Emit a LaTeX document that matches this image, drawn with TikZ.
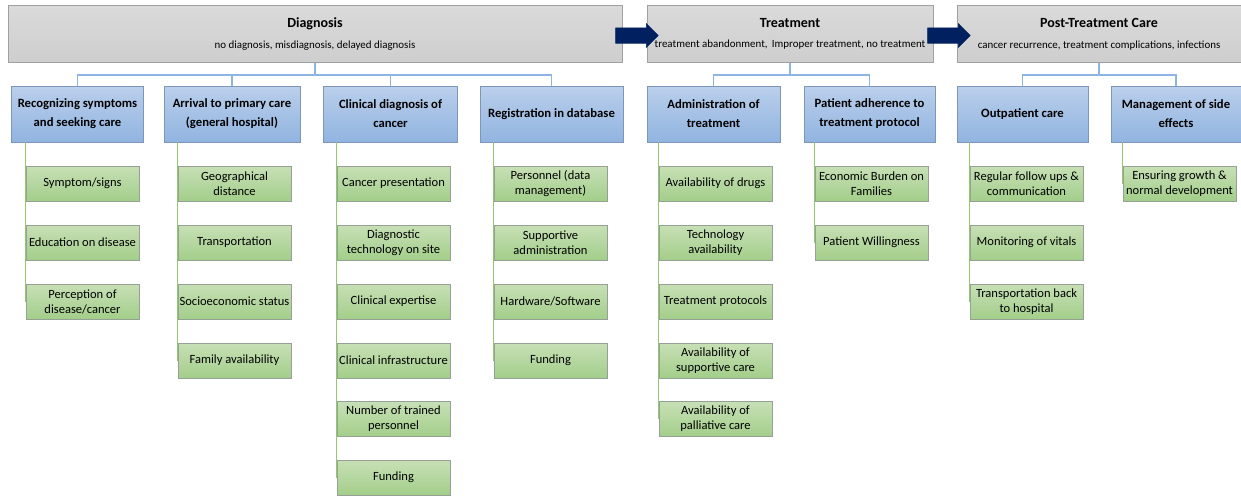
\documentclass[tikz,border=0pt]{standalone}
\usepackage{fontspec}
\setmainfont{Carlito}
\usetikzlibrary{shapes.arrows}

\definecolor{phasefill}{RGB}{206,206,206}
\definecolor{phasetop}{RGB}{218,218,218}
\definecolor{phaseline}{RGB}{160,160,160}
\definecolor{stagetop}{RGB}{186,207,235}
\definecolor{stagebot}{RGB}{145,180,224}
\definecolor{stageline}{RGB}{125,150,185}
\definecolor{factortop}{RGB}{199,224,182}
\definecolor{factorbot}{RGB}{163,206,138}
\definecolor{factorline}{RGB}{150,160,150}
\definecolor{bluelink}{RGB}{141,180,226}
\definecolor{greenlink}{RGB}{146,200,110}
\definecolor{navy}{RGB}{0,32,96}

\tikzset{
  phase/.style={draw=phaseline, line width=0.6pt, top color=phasetop, bottom color=phasefill,
    minimum height=42.75pt, align=center, inner sep=0pt},
  stage/.style={draw=stageline, line width=0.6pt, top color=stagetop, bottom color=stagebot,
    minimum height=42pt, align=center, inner sep=0pt, font=\bfseries\fontsize{9.5}{14.25}\selectfont},
  factor/.style={draw=factorline, line width=0.5pt, top color=factortop, bottom color=factorbot,
    minimum width=84.75pt, minimum height=26.25pt, align=center, inner sep=0pt,
    font=\fontsize{9.4}{11.25}\selectfont},
  bluetree/.style={draw=bluelink, line width=0.9pt},
  greentree/.style={draw=greenlink, line width=1pt},
  flowarrow/.style={single arrow, fill=navy, draw=navy, inner sep=5.6pt, minimum height=32pt,
    single arrow head extend=3pt, single arrow tip angle=90},
}
\newcommand{\phasetext}[2]{{\bfseries\fontsize{10.5}{12}\selectfont #1}\\[3.5pt]{\fontsize{8.2}{9}\selectfont #2}}

\begin{document}
\begin{tikzpicture}[x=0.75pt,y=-0.75pt]
  \useasboundingbox[fill=white] (0,0) rectangle (1241,496);

  % Phases along the care pathway
  \node[phase, minimum width=460.5pt] (diag) at (315,34)
    {\phasetext{Diagnosis}{no diagnosis, misdiagnosis, delayed diagnosis}};
  \node[phase, minimum width=214.5pt] (treat) at (790,34)
    {\phasetext{Treatment}{treatment abandonment,\, Improper treatment, no treatment}};
  \node[phase, minimum width=213pt] (post) at (1099,34)
    {\phasetext{Post-Treatment Care}{cancer recurrence, treatment complications, infections}};
  \node[flowarrow] (arrA) at (633,35.5) {};
  \node[flowarrow] (arrB) at (945,35.5) {};

  % Stages below each phase
  \node[stage, minimum width=99pt] (recog) at (77.5,114) {Recognizing symptoms\\and seeking care};
  \node[stage, minimum width=102pt] (arriv) at (232,114) {Arrival to primary care\\(general hospital)};
  \node[stage, minimum width=100.5pt] (clin) at (390.5,114) {Clinical diagnosis of\\cancer};
  \node[stage, minimum width=107.25pt] (regis) at (551.5,114) {Registration in database};
  \node[stage, minimum width=99.75pt] (admin) at (713.5,114) {Administration of\\treatment};
  \node[stage, minimum width=98.25pt] (adher) at (869.5,114) {Patient adherence to\\treatment protocol};
  \node[stage, minimum width=98.25pt] (outp) at (1022.5,114) {Outpatient care};
  \node[stage, minimum width=97.5pt] (side) at (1176,114) {Management of side\\effects};

  \draw[bluetree] (diag.south) -- ++(0,12) -| (recog.north);
  \draw[bluetree] (diag.south) -- ++(0,12) -| (arriv.north);
  \draw[bluetree] (diag.south) -- ++(0,12) -| (clin.north);
  \draw[bluetree] (diag.south) -- ++(0,12) -| (regis.north);
  \draw[bluetree] (treat.south) -- ++(0,12) -| (admin.north);
  \draw[bluetree] (treat.south) -- ++(0,12) -| (adher.north);
  \draw[bluetree] (post.south) -- ++(0,12) -| (outp.north);
  \draw[bluetree] (post.south) -- ++(0,12) -| (side.north);

  % Factors: recognizing symptoms
  \node[factor] (recogA) at (82.5,183.5) {Symptom/signs};
  \node[factor] (recogB) at (82.5,242.5) {Education on disease};
  \node[factor] (recogC) at (82.5,301.5) {Perception of\\disease/cancer};

  % Factors: arrival to primary care
  \node[factor] (arrivA) at (234.5,183.5) {Geographical\\distance};
  \node[factor] (arrivB) at (234.5,242.5) {Transportation};
  \node[factor] (arrivC) at (234.5,301.5) {Socioeconomic status};
  \node[factor] (arrivD) at (234.5,360.5) {Family availability};

  % Factors: clinical diagnosis
  \node[factor] (clinA) at (393.5,183.5) {Cancer presentation};
  \node[factor] (clinB) at (393.5,242.5) {Diagnostic\\technology on site};
  \node[factor] (clinC) at (393.5,301.5) {Clinical expertise};
  \node[factor] (clinD) at (393.5,360.5) {Clinical infrastructure};
  \node[factor] (clinE) at (393.5,419) {Number of trained\\personnel};
  \node[factor] (clinF) at (393.5,477.5) {Funding};

  % Factors: registration
  \node[factor] (regisA) at (550.5,183.5) {Personnel (data\\management)};
  \node[factor] (regisB) at (550.5,242.5) {Supportive\\administration};
  \node[factor] (regisC) at (550.5,301.5) {Hardware/Software};
  \node[factor] (regisD) at (550.5,360.5) {Funding};

  % Factors: administration of treatment
  \node[factor] (adminA) at (715.5,183.5) {Availability of drugs};
  \node[factor] (adminB) at (715.5,242.5) {Technology\\availability};
  \node[factor] (adminC) at (715.5,301.5) {Treatment protocols};
  \node[factor] (adminD) at (715.5,360.5) {Availability of\\supportive care};
  \node[factor] (adminE) at (715.5,419) {Availability of\\palliative care};

  % Factors: patient adherence
  \node[factor] (adherA) at (871.5,183.5) {Economic Burden on\\Families};
  \node[factor] (adherB) at (871.5,242.5) {Patient Willingness};

  % Factors: outpatient care
  \node[factor] (outpA) at (1026.5,183.5) {Regular follow ups \&\\communication};
  \node[factor] (outpB) at (1026.5,242.5) {Monitoring of vitals};
  \node[factor] (outpC) at (1026.5,301.5) {Transportation back\\to hospital};

  % Factors: side effects
  \node[factor] (sideA) at (1179.5,183.5) {Ensuring growth \&\\normal development};

  % Green spines run down the left edge of each factor column
  \draw[greentree] (recog.south -| recogC.west) -- (recogC.west);
  \draw[greentree] (arriv.south -| arrivD.west) -- (arrivD.west);
  \draw[greentree] (clin.south -| clinF.west) -- (clinF.west);
  \draw[greentree] (regis.south -| regisD.west) -- (regisD.west);
  \draw[greentree] (admin.south -| adminE.west) -- (adminE.west);
  \draw[greentree] (adher.south -| adherB.west) -- (adherB.west);
  \draw[greentree] (outp.south -| outpC.west) -- (outpC.west);
  \draw[greentree] (side.south -| sideA.west) -- (sideA.west);
\end{tikzpicture}
\end{document}
